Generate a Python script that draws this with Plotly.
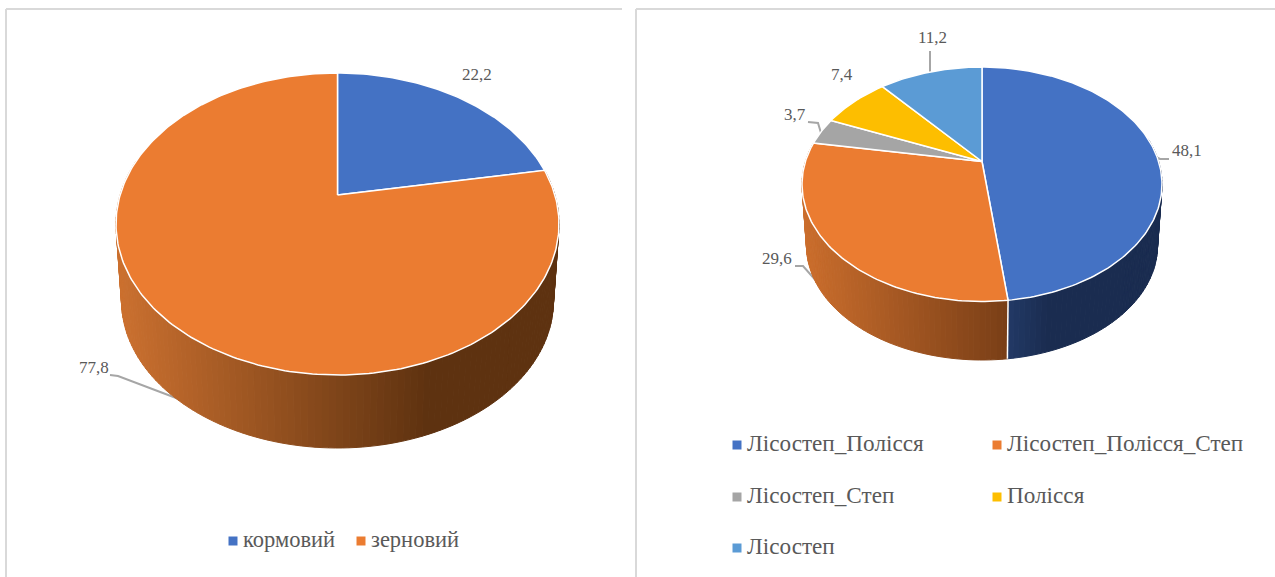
import numpy as np
import plotly.graph_objects as go

# ---- data ----
left_categories = ["кормовий", "зерновий"]
left_values = [22.2, 77.8]
right_categories = ["Лісостеп_Полісся", "Лісостеп_Полісся_Степ", "Лісостеп_Степ", "Полісся", "Лісостеп"]
right_values = [48.1, 29.6, 3.7, 7.4, 11.2]
colors = ["#4472C4", "#EB7C31", "#A5A5A5", "#FDBE00", "#5B9BD5"]

BORDER = "#D9D9D9"
LEADER = "#A6A6A6"
TEXT = "#595959"
SERIF = "Liberation Serif"

fig = go.Figure()


def rgb(h):
    return np.array([int(h[i:i + 2], 16) for i in (1, 3, 5)], float)


def add_pie(values, cx, apex_y, top_y, bot_y, rx, wall_bottom, shrink, side_stops):
    """Tilted 3D pie: a projective map of the unit disc, driven by the values."""
    c = (top_y + bot_y - 2 * apex_y) / (bot_y - top_y)
    a = top_y * (1 + c) - apex_y
    k = rx * np.sqrt(1 - c * c)

    def top(theta):
        u, v = np.sin(theta), np.cos(theta)
        d = 1 + c * v
        return cx + k * u / d, (a * v + apex_y) / d

    # bottom rim: same curve, slightly smaller and moved down
    off = wall_bottom - (apex_y + shrink * (bot_y - apex_y))

    def bottom(theta):
        x, y = top(theta)
        return cx + shrink * (x - cx), apex_y + off + shrink * (y - apex_y)

    edges = np.concatenate([[0], np.cumsum(values)]) / 100 * 2 * np.pi

    # side walls
    for i in range(len(values)):
        lo = max(edges[i], np.radians(78))
        hi = min(edges[i + 1], np.radians(284))
        if hi <= lo or i not in side_stops:
            continue
        (x0, c0), (x1, c1) = side_stops[i]
        n = max(2, int(np.degrees(hi - lo) / 1.5))
        th = np.linspace(lo, hi, n + 1)
        for j in range(n):
            xa, ya = top(th[j])
            xb, yb = top(th[j + 1])
            xc, yc = bottom(th[j + 1])
            xd, yd = bottom(th[j])
            f = np.clip(((xa + xb) / 2 - x0) / (x1 - x0), 0, 1)
            col = rgb(c0) * (1 - f) + rgb(c1) * f
            css = "rgb(%d,%d,%d)" % tuple(col)
            fig.add_trace(go.Scatter(
                x=[xa, xb, xc, xd, xa], y=[ya, yb, yc, yd, ya], mode="lines",
                fill="toself", fillcolor=css, line=dict(color=css, width=1),
                hoverinfo="skip", showlegend=False))

    # white seams between visible side walls
    for e in edges[1:-1]:
        if np.radians(95) < e < np.radians(265):
            xa, ya = top(e)
            xb, yb = bottom(e)
            fig.add_trace(go.Scatter(x=[xa, xb], y=[ya, yb], mode="lines",
                                     line=dict(color="white", width=1.5),
                                     hoverinfo="skip", showlegend=False))

    # top surface
    for i in range(len(values)):
        th = np.linspace(edges[i], edges[i + 1], max(3, int(np.degrees(edges[i + 1] - edges[i]))))
        xs, ys = top(th)
        fig.add_trace(go.Scatter(
            x=np.r_[cx, xs, cx], y=np.r_[apex_y, ys, apex_y], mode="lines",
            fill="toself", fillcolor=colors[i], line=dict(color="white", width=1.5),
            hoverinfo="skip", showlegend=False))


def leader(xs, ys):
    fig.add_trace(go.Scatter(x=xs, y=ys, mode="lines", line=dict(color=LEADER, width=2),
                             hoverinfo="skip", showlegend=False))


def label(x, y, txt, size, color=TEXT):
    fig.add_trace(go.Scatter(x=[x], y=[y], mode="text", text=[txt], textposition="middle right",
                             textfont=dict(family=SERIF, size=size, color=color),
                             hoverinfo="skip", showlegend=False))


def legend_item(mx, tx, y, color, txt, size):
    fig.add_trace(go.Scatter(x=[mx], y=[y], mode="markers",
                             marker=dict(symbol="square", size=9, color=color),
                             hoverinfo="skip", showlegend=False))
    label(tx, y, txt, size)


# panel borders
for xs, ys in [([6, 6], [577, 9]), ([6, 622], [9, 9]), ([636, 636], [577, 9]), ([636, 1275], [9, 9])]:
    fig.add_trace(go.Scatter(x=xs, y=ys, mode="lines", line=dict(color=BORDER, width=2),
                             hoverinfo="skip", showlegend=False))

# leaders go under the pies
leader([110, 118, 184], [375, 376, 401])
leader([795, 803, 842], [266, 266, 310])
leader([808, 818, 821], [122, 123, 133])
leader([930, 930], [51, 72])
leader([1150, 1160, 1169], [154, 159, 159])

add_pie(left_values, 337.5, 195, 73, 375, 221.5, 448, 0.975,
        {1: ((116, "#CC7130"), (430, "#5E3210"))})
add_pie(right_values, 982, 161.5, 67, 301.5, 180, 360, 0.975,
        {0: ((1007, "#233A66"), (1050, "#1A2C50")),
         1: ((803, "#CB6E2D"), (1007, "#7A3F17"))})

fmt = lambda v: f"{v:.1f}".replace(".", ",")
LBL = 17
label(462, 76, fmt(left_values[0]), LBL)
label(79, 369, fmt(left_values[1]), LBL)
label(1172, 152, fmt(right_values[0]), LBL)
label(762, 260, fmt(right_values[1]), LBL)
label(784, 116, fmt(right_values[2]), LBL)
label(831, 76, fmt(right_values[3]), LBL)
label(918, 39, fmt(right_values[4]), LBL)

LEG_L = 22.5
LEG_R = 23.2
legend_item(233, 243, 541, colors[0], left_categories[0], LEG_L)
legend_item(361, 371, 541, colors[1], left_categories[1], LEG_L)

legend_item(737, 747, 445, colors[0], right_categories[0], LEG_R)
legend_item(997, 1007, 445, colors[1], right_categories[1], LEG_R)
legend_item(737, 747, 497, colors[2], right_categories[2], LEG_R)
legend_item(997, 1007, 497, colors[3], right_categories[3], LEG_R)
legend_item(737, 747, 548, colors[4], right_categories[4], LEG_R)

fig.update_layout(
    width=1275, height=577, margin=dict(l=0, r=0, t=0, b=0),
    paper_bgcolor="white", plot_bgcolor="white", showlegend=False,
    xaxis=dict(range=[0, 1275], visible=False, fixedrange=True),
    yaxis=dict(range=[577, 0], visible=False, fixedrange=True),
)
fig.write_html("out.html", config={"displayModeBar": False},
               post_script="document.body.style.margin='0';document.body.style.overflow='hidden';")
